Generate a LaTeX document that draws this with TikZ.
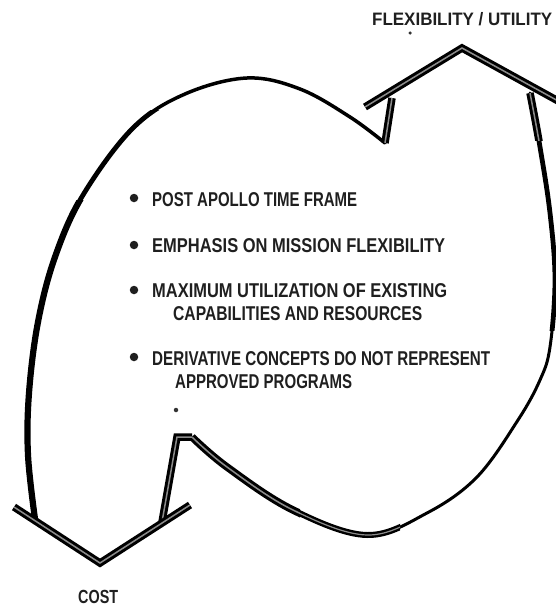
\documentclass[tikz,border=0pt]{standalone}
\usepackage{graphicx}
\usepackage{fontspec}
\setmainfont{Liberation Sans}
\newcommand\fitw[2]{\resizebox{#1}{\height}{#2}}
\begin{document}
\begin{tikzpicture}[x=1pt,y=-1pt,
  arcline/.style={line cap=round,line join=round},
  band/.style={draw=black,line width=3pt,double=black!45,double distance=1.5pt,line join=miter},
  txt/.style={anchor=base west,inner sep=0pt,font=\bfseries\fontsize{20}{24}\selectfont,text=black!88},
  bul/.style={circle,fill=black!88,inner sep=0pt,minimum size=8.5pt},
  speck/.style={circle,fill=black!80,inner sep=0pt,minimum size=3.5pt}]
\useasboundingbox (0,0) rectangle (556,608);

% key points
\coordinate (costL) at (14,507);
\coordinate (costTip) at (100,563);
\coordinate (costR) at (190,505);
\coordinate (costStemB) at (162,522);
\coordinate (costStemT) at (177,437);
\coordinate (botStart) at (192,437);
\coordinate (leftStart) at (35,519);
\coordinate (topL) at (365,107);
\coordinate (topTip) at (462,48);
\coordinate (topR) at (560,102);
\coordinate (topStemT) at (392,98);
\coordinate (topStemB) at (385,143);
\coordinate (rightStart) at (530,93);

% left arc (COST -> FLEXIBILITY)
\draw[arcline,line width=3.5pt] plot[smooth,tension=0.6] coordinates {(35,519) (28,455) (29,393) (38,322) (55,257) (83,195) (133,128) (185,94) (247,78) (300,89) (350,117) (385,143)};
\begin{scope}
\clip (0,110) rectangle (160,530);
\draw[arcline,line width=4.8pt] plot[smooth,tension=0.6] coordinates {(35,519) (28,455) (29,393) (38,322) (55,257) (83,195) (133,128) (185,94) (247,78) (300,89) (350,117) (385,143)};
\end{scope}
\begin{scope}
\clip (0,200) rectangle (90,530);
\draw[arcline,line width=6.2pt] plot[smooth,tension=0.6] coordinates {(35,519) (28,455) (29,393) (38,322) (55,257) (83,195) (133,128) (185,94) (247,78) (300,89) (350,117) (385,143)};
\end{scope}

% right arc (FLEXIBILITY -> COST)
\draw[arcline,line width=3pt] plot[smooth,tension=0.6] coordinates {(530,93) (540,147) (550,213) (555,280) (550,347) (540,380) (518,420) (477,477) (427,513) (367,535) (293,510) (227,467) (192,437)};
\begin{scope}
\clip (500,100) rectangle (556,330);
\draw[arcline,line width=4.8pt] plot[smooth,tension=0.6] coordinates {(530,93) (540,147) (550,213) (555,280) (550,347) (540,380) (518,420) (477,477) (427,513) (367,535) (293,510) (227,467) (192,437)};
\end{scope}
\begin{scope}
\clip (500,80) rectangle (556,140);
\draw[band] plot[smooth,tension=0.6] coordinates {(530,93) (540,147) (550,213) (555,280) (550,347) (540,380) (518,420) (477,477) (427,513) (367,535) (293,510) (227,467) (192,437)};
\end{scope}
\begin{scope}
\clip (185,430) rectangle (300,545);
\draw[band] plot[smooth,tension=0.6] coordinates {(530,93) (540,147) (550,213) (555,280) (550,347) (540,380) (518,420) (477,477) (427,513) (367,535) (293,510) (227,467) (192,437)};
\end{scope}
\begin{scope}
\clip (300,430) rectangle (400,545);
\draw[draw=black,line width=2.4pt,double=black!45,double distance=1.2pt] plot[smooth,tension=0.6] coordinates {(530,93) (540,147) (550,213) (555,280) (550,347) (540,380) (518,420) (477,477) (427,513) (367,535) (293,510) (227,467) (192,437)};
\end{scope}

% COST arrowhead
\draw[band] (costStemB) -- (costStemT) -- (botStart);
\draw[band] (costL) -- (costTip) -- (costR);

% FLEXIBILITY arrowhead
\draw[band] (topStemB) -- (topStemT);
\draw[band] (topL) -- (topTip) -- (topR);

% labels
\node[anchor=base west,inner sep=0pt,font=\bfseries\fontsize{18}{20}\selectfont,text=black!88] (flex) at (372,25) {\fitw{180pt}{FLEXIBILITY / UTILITY}};
\node[txt,font=\bfseries\fontsize{19}{22}\selectfont] (cost) at (78,603) {\fitw{40pt}{COST}};
\node[speck] (s1) at (410,33) {};
\node[speck,minimum size=4.5pt] (s2) at (176,410) {};

% bullets and text
\node[bul] (b1) at (134,198) {};
\node[bul] (b2) at (134,245) {};
\node[bul] (b3) at (134,290) {};
\node[bul] (b4) at (134,357) {};
\node[txt] (t1) at (152,206) {\fitw{205pt}{POST APOLLO TIME FRAME}};
\node[txt] (t2) at (152,252) {\fitw{293pt}{EMPHASIS ON MISSION FLEXIBILITY}};
\node[txt] (t3) at (152,297) {\fitw{295pt}{MAXIMUM UTILIZATION OF EXISTING}};
\node[txt] (t3b) at (173,320) {\fitw{249pt}{CAPABILITIES AND RESOURCES}};
\node[txt] (t4) at (152,365) {\fitw{338pt}{DERIVATIVE CONCEPTS DO NOT REPRESENT}};
\node[txt] (t4b) at (175,388) {\fitw{177pt}{APPROVED PROGRAMS}};
\end{tikzpicture}
\end{document}
